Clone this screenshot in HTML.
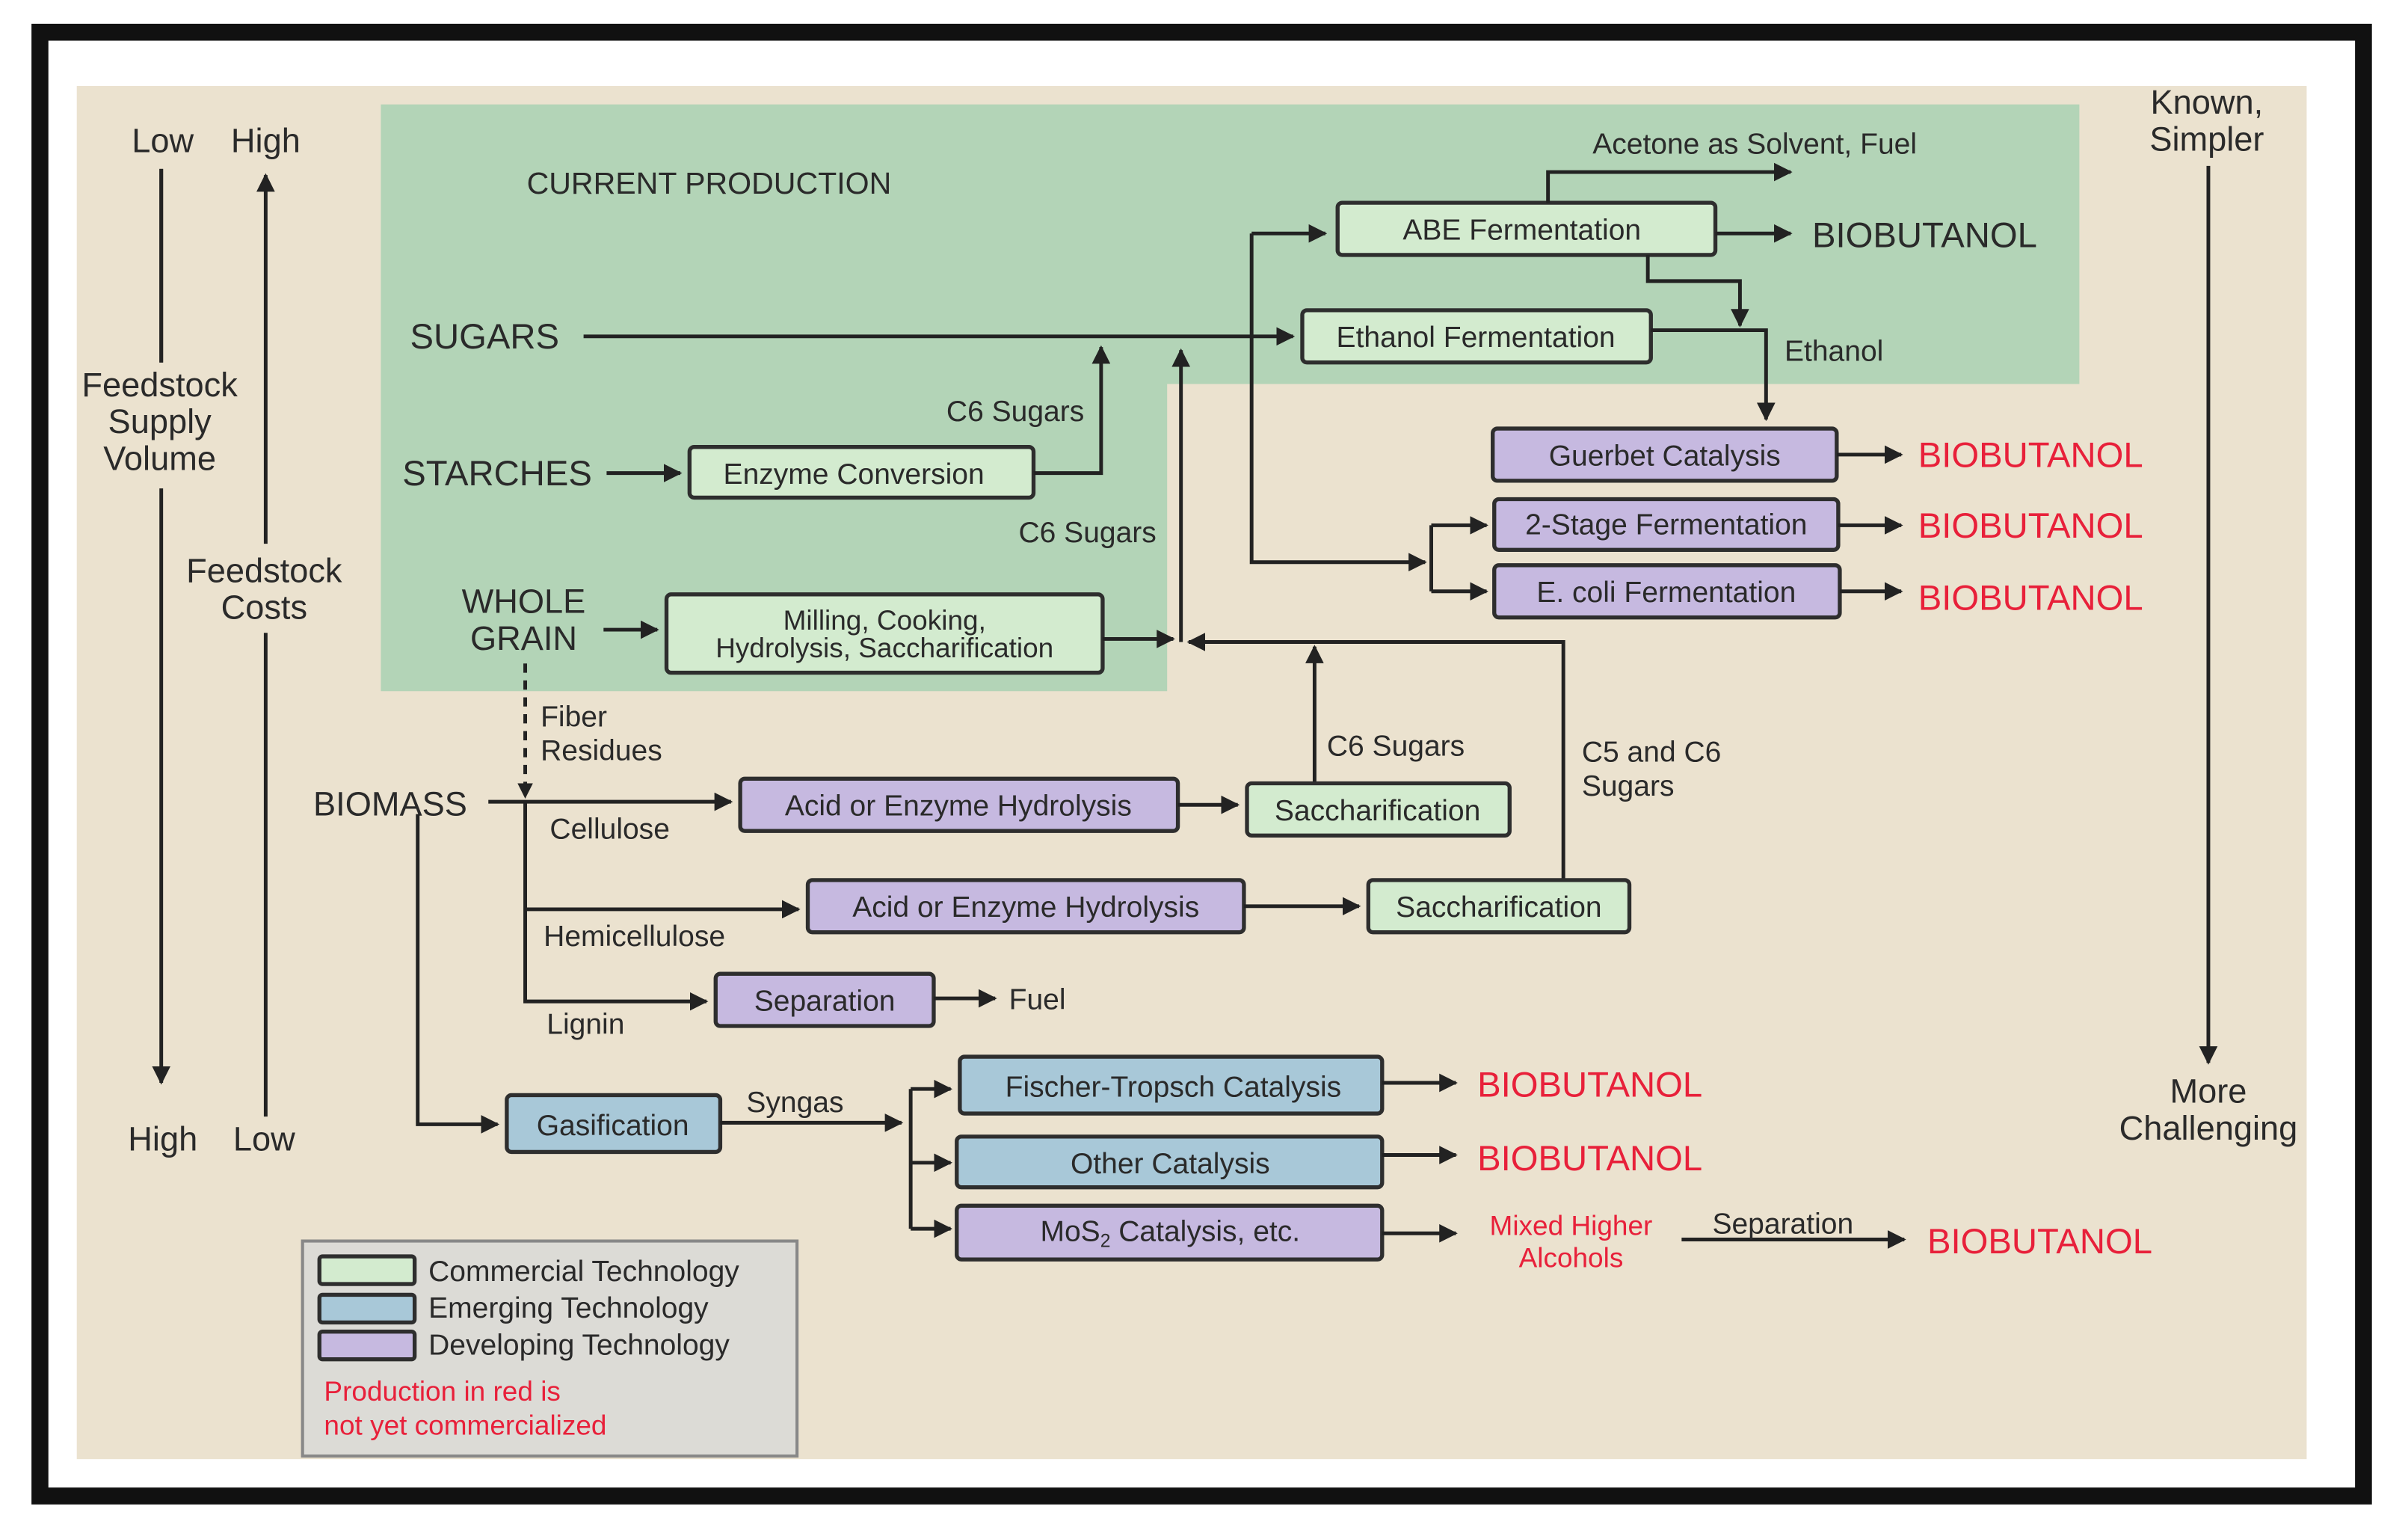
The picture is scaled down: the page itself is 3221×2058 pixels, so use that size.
<!DOCTYPE html>
<html><head><meta charset="utf-8"><style>
html,body{margin:0;padding:0;background:#fff;}
svg{display:block;}
text{font-family:"Liberation Sans",Arial,sans-serif;fill:#2a2a2a;}
.b{stroke:#2e2e2e;stroke-width:2.6;}
.g{fill:#d3ebcf;}.p{fill:#c6b9e0;}.u{fill:#a8c8d8;}
.l{stroke:#222;stroke-width:2.4;fill:none;}
.r{fill:#e8203a;}
</style></head><body>
<svg width="3221" height="2058" viewBox="0 0 1568 1002" preserveAspectRatio="none" xmlns="http://www.w3.org/2000/svg">
<defs>
<marker id="a" viewBox="0 0 10 10" refX="9" refY="5" markerWidth="5" markerHeight="5" orient="auto" markerUnits="strokeWidth"><path d="M0,0 L10,5 L0,10 z" fill="#222"/></marker>
</defs>
<rect x="0" y="0" width="1568" height="1002" fill="#fff"/>
<rect x="26" y="21" width="1513" height="953" fill="#fff" stroke="#111" stroke-width="11"/>
<rect x="50" y="56" width="1452" height="894" fill="#ebe2cf"/>
<path d="M248,68 H1354 V250 H760 V450 H248 Z" fill="#b3d4b7"/>

<!-- left axes -->
<g font-size="22" text-anchor="middle">
<text x="106" y="99">Low</text><text x="173" y="99">High</text>
<text x="104" y="258">Feedstock</text><text x="104" y="282">Supply</text><text x="104" y="306">Volume</text>
<text x="172" y="379">Feedstock</text><text x="172" y="403">Costs</text>
<text x="106" y="749">High</text><text x="172" y="749">Low</text>
<text x="1437" y="74">Known,</text><text x="1437" y="98">Simpler</text>
<text x="1438" y="718">More</text><text x="1438" y="742">Challenging</text>
</g>
<path class="l" d="M105,110 V236 M105,318 V705" marker-end="url(#a)"/>
<line class="l" x1="105" y1="110" x2="105" y2="236"/>
<path class="l" d="M173,727 V412" />
<path class="l" d="M173,354 V114" marker-end="url(#a)"/>
<path class="l" d="M1438,108 V692" marker-end="url(#a)"/>

<text x="343" y="126" font-size="20">CURRENT PRODUCTION</text>

<!-- top section -->
<text x="267" y="227" font-size="23">SUGARS</text>
<path class="l" d="M380,219 H842" marker-end="url(#a)"/>
<rect class="b g" x="848" y="202" width="227" height="34" rx="3"/>
<text x="961" y="226" font-size="19" text-anchor="middle">Ethanol Fermentation</text>
<rect class="b g" x="871" y="132" width="246" height="34" rx="3"/>
<text x="991" y="156" font-size="19" text-anchor="middle">ABE Fermentation</text>
<path class="l" d="M1008,132 V112 H1166" marker-end="url(#a)"/>
<text x="1037" y="100" font-size="19">Acetone as Solvent, Fuel</text>
<path class="l" d="M1117,152 H1166" marker-end="url(#a)"/>
<text x="1180" y="161" font-size="23">BIOBUTANOL</text>
<path class="l" d="M1073,166 V183 H1133 V212" marker-end="url(#a)"/>
<path class="l" d="M1075,215 H1150 V273" marker-end="url(#a)"/>
<text x="1162" y="235" font-size="19">Ethanol</text>
<path class="l" d="M815,152 H863" marker-end="url(#a)"/>
<path class="l" d="M815,152 V366 H928" marker-end="url(#a)"/>
<path class="l" d="M932,342 V385"/>
<path class="l" d="M932,342 H968" marker-end="url(#a)"/>
<path class="l" d="M932,385 H968" marker-end="url(#a)"/>
<rect class="b p" x="972" y="279" width="224" height="34" rx="3"/>
<text x="1084" y="303" font-size="19" text-anchor="middle">Guerbet Catalysis</text>
<rect class="b p" x="973" y="325" width="224" height="33" rx="3"/>
<text x="1085" y="348" font-size="19" text-anchor="middle">2-Stage Fermentation</text>
<rect class="b p" x="973" y="368" width="225" height="34" rx="3"/>
<text x="1085" y="392" font-size="19" text-anchor="middle">E. coli Fermentation</text>
<path class="l" d="M1196,296 H1238" marker-end="url(#a)"/>
<path class="l" d="M1197,342 H1238" marker-end="url(#a)"/>
<path class="l" d="M1198,385 H1238" marker-end="url(#a)"/>
<g font-size="23" class="r"><text class="r" x="1249" y="304">BIOBUTANOL</text><text class="r" x="1249" y="350">BIOBUTANOL</text><text class="r" x="1249" y="397">BIOBUTANOL</text></g>

<text x="262" y="316" font-size="23">STARCHES</text>
<path class="l" d="M395,308 H443" marker-end="url(#a)"/>
<rect class="b g" x="449" y="291" width="224" height="33" rx="3"/>
<text x="556" y="315" font-size="19" text-anchor="middle">Enzyme Conversion</text>
<path class="l" d="M673,308 H717 V226" marker-end="url(#a)"/>
<text x="706" y="274" font-size="19" text-anchor="end">C6 Sugars</text>
<text x="753" y="353" font-size="19" text-anchor="end">C6 Sugars</text>

<g font-size="22" text-anchor="middle"><text x="341" y="399">WHOLE</text><text x="341" y="423">GRAIN</text></g>
<path class="l" d="M393,410 H428" marker-end="url(#a)"/>
<rect class="b g" x="434" y="387" width="284" height="51" rx="3"/>
<text x="576" y="410" font-size="18" text-anchor="middle">Milling, Cooking,</text>
<text x="576" y="428" font-size="18" text-anchor="middle">Hydrolysis, Saccharification</text>
<path class="l" d="M718,416 H764" marker-end="url(#a)"/>
<path class="l" d="M769,418 V228" marker-end="url(#a)"/>
<path class="l" d="M1018,573 V418 H774" marker-end="url(#a)"/>
<path class="l" d="M856,510 V421" marker-end="url(#a)"/>
<text x="864" y="492" font-size="19">C6 Sugars</text>
<text x="1030" y="496" font-size="19">C5 and C6</text><text x="1030" y="518" font-size="19">Sugars</text>

<!-- biomass -->
<path class="l" d="M342,432 V512" stroke-dasharray="6,5"/>
<path d="M337,510 L342,520 L347,510 z" fill="#222"/>
<text x="352" y="473" font-size="19">Fiber</text><text x="352" y="495" font-size="19">Residues</text>
<text x="204" y="531" font-size="22">BIOMASS</text>
<path class="l" d="M318,522 H476" marker-end="url(#a)"/>
<text x="358" y="546" font-size="19">Cellulose</text>
<path class="l" d="M342,522 V652 H460" marker-end="url(#a)"/>
<path class="l" d="M342,592 H520" marker-end="url(#a)"/>
<text x="354" y="616" font-size="19">Hemicellulose</text>
<text x="356" y="673" font-size="19">Lignin</text>
<rect class="b p" x="482" y="507" width="285" height="34" rx="3"/>
<text x="624" y="531" font-size="19" text-anchor="middle">Acid or Enzyme Hydrolysis</text>
<rect class="b p" x="526" y="573" width="284" height="34" rx="3"/>
<text x="668" y="597" font-size="19" text-anchor="middle">Acid or Enzyme Hydrolysis</text>
<rect class="b p" x="466" y="634" width="142" height="34" rx="3"/>
<text x="537" y="658" font-size="19" text-anchor="middle">Separation</text>
<path class="l" d="M767,524 H806" marker-end="url(#a)"/>
<path class="l" d="M810,590 H885" marker-end="url(#a)"/>
<path class="l" d="M608,650 H648" marker-end="url(#a)"/>
<text x="657" y="657" font-size="19">Fuel</text>
<rect class="b g" x="812" y="510" width="171" height="34" rx="3"/>
<text x="897" y="534" font-size="19" text-anchor="middle">Saccharification</text>
<rect class="b g" x="891" y="573" width="170" height="34" rx="3"/>
<text x="976" y="597" font-size="19" text-anchor="middle">Saccharification</text>

<!-- gasification -->
<path class="l" d="M272,530 V732 H324" marker-end="url(#a)"/>
<rect class="b u" x="330" y="713" width="139" height="37" rx="3"/>
<text x="399" y="739" font-size="19" text-anchor="middle">Gasification</text>
<text x="486" y="724" font-size="19">Syngas</text>
<path class="l" d="M469,731 H587" marker-end="url(#a)"/>
<path class="l" d="M593,709 V800"/>
<path class="l" d="M593,709 H619" marker-end="url(#a)"/>
<path class="l" d="M593,757 H619" marker-end="url(#a)"/>
<path class="l" d="M593,800 H619" marker-end="url(#a)"/>
<rect class="b u" x="625" y="688" width="275" height="37" rx="3"/>
<text x="764" y="714" font-size="19" text-anchor="middle">Fischer-Tropsch Catalysis</text>
<rect class="b u" x="623" y="740" width="277" height="33" rx="3"/>
<text x="762" y="764" font-size="19" text-anchor="middle">Other Catalysis</text>
<rect class="b p" x="623" y="785" width="277" height="35" rx="3"/>
<text x="762" y="808" font-size="19" text-anchor="middle">MoS<tspan font-size="12" dy="4">2</tspan><tspan dy="-4"> Catalysis, etc.</tspan></text>
<path class="l" d="M900,705 H948" marker-end="url(#a)"/>
<path class="l" d="M900,752 H948" marker-end="url(#a)"/>
<path class="l" d="M900,803 H948" marker-end="url(#a)"/>
<text class="r" x="962" y="714" font-size="23">BIOBUTANOL</text>
<text class="r" x="962" y="762" font-size="23">BIOBUTANOL</text>
<text class="r" x="1023" y="804" font-size="18" text-anchor="middle">Mixed Higher</text>
<text class="r" x="1023" y="825" font-size="18" text-anchor="middle">Alcohols</text>
<path class="l" d="M1095,807 H1240" marker-end="url(#a)"/>
<text x="1115" y="803" font-size="19">Separation</text>
<text class="r" x="1255" y="816" font-size="23">BIOBUTANOL</text>

<!-- legend -->
<rect x="197" y="808" width="322" height="140" fill="#dcdbd6" stroke="#888" stroke-width="2"/>
<rect class="b g" x="208" y="818" width="62" height="18" rx="2" stroke-width="1.6"/>
<rect class="b u" x="208" y="843" width="62" height="18" rx="2" stroke-width="1.6"/>
<rect class="b p" x="208" y="867" width="62" height="18" rx="2" stroke-width="1.6"/>
<text x="279" y="834" font-size="19">Commercial Technology</text>
<text x="279" y="858" font-size="19">Emerging Technology</text>
<text x="279" y="882" font-size="19">Developing Technology</text>
<text class="r" x="211" y="912" font-size="18">Production in red is</text>
<text class="r" x="211" y="934" font-size="18">not yet commercialized</text>
</svg>
</body></html>
